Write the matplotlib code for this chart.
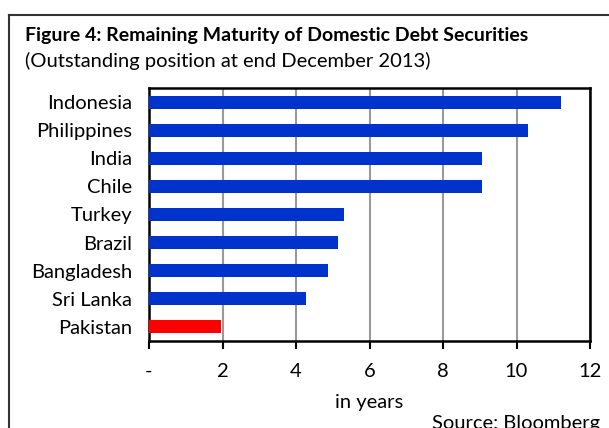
import matplotlib.pyplot as plt
from matplotlib.lines import Line2D

plt.rcParams['font.family'] = ['Lato', 'DejaVu Sans']

countries = ['Indonesia', 'Philippines', 'India', 'Chile', 'Turkey', 'Brazil',
             'Bangladesh', 'Sri Lanka', 'Pakistan']
maturity = [11.2, 10.3, 9.05, 9.05, 5.3, 5.15, 4.87, 4.27, 1.95]
colors = ['#0033cc'] * 8 + ['#ff0000']
xticks = [0, 2, 4, 6, 8, 10, 12]
xtick_labels = ['-', '2', '4', '6', '8', '10', '12']

fig = plt.figure(figsize=(6.09, 4.28), dpi=100)
ax = fig.add_axes([149 / 609, 1 - 341 / 428, 441 / 609, 253 / 428])

y = list(range(len(countries)))
ax.barh(y, maturity, height=0.46, color=colors, zorder=3)
ax.set_ylim(len(countries) - 0.5, -0.5)
ax.set_xlim(0, 12)
ax.set_yticks(y)
ax.set_yticklabels(countries, fontsize=14.5)
ax.tick_params(axis='y', length=0, pad=12)
ax.set_xticks(xticks)
ax.set_xticklabels(xtick_labels, fontsize=14.5)
ax.tick_params(axis='x', length=6, width=1.5, pad=10, direction='out')
ax.grid(axis='x', color='#999999', linewidth=1.5, zorder=0)
for s in ax.spines.values():
    s.set_linewidth(1.8)
ax.set_xlabel('in years', fontsize=14.5, labelpad=10)

# outer frame (cut off at right / bottom like the source)
fig.add_artist(Line2D([9 / 609, 9 / 609], [0, 1 - 15 / 428], color='#333333', linewidth=1.5))
fig.add_artist(Line2D([9 / 609, 1], [1 - 15 / 428, 1 - 15 / 428], color='#333333', linewidth=1.5))

fig.text(25 / 609, 1 - 35 / 428, 'Figure 4: Remaining Maturity of Domestic Debt Securities',
         fontsize=14, fontweight='bold', va='center')
fig.text(25 / 609, 1 - 61 / 428, '(Outstanding position at end December 2013)',
         fontsize=14.5, va='center')
fig.text(432 / 609, 1 - 423 / 428, 'Source: Bloomberg', fontsize=14.5, va='center')

fig.savefig('out.png', dpi=100)
